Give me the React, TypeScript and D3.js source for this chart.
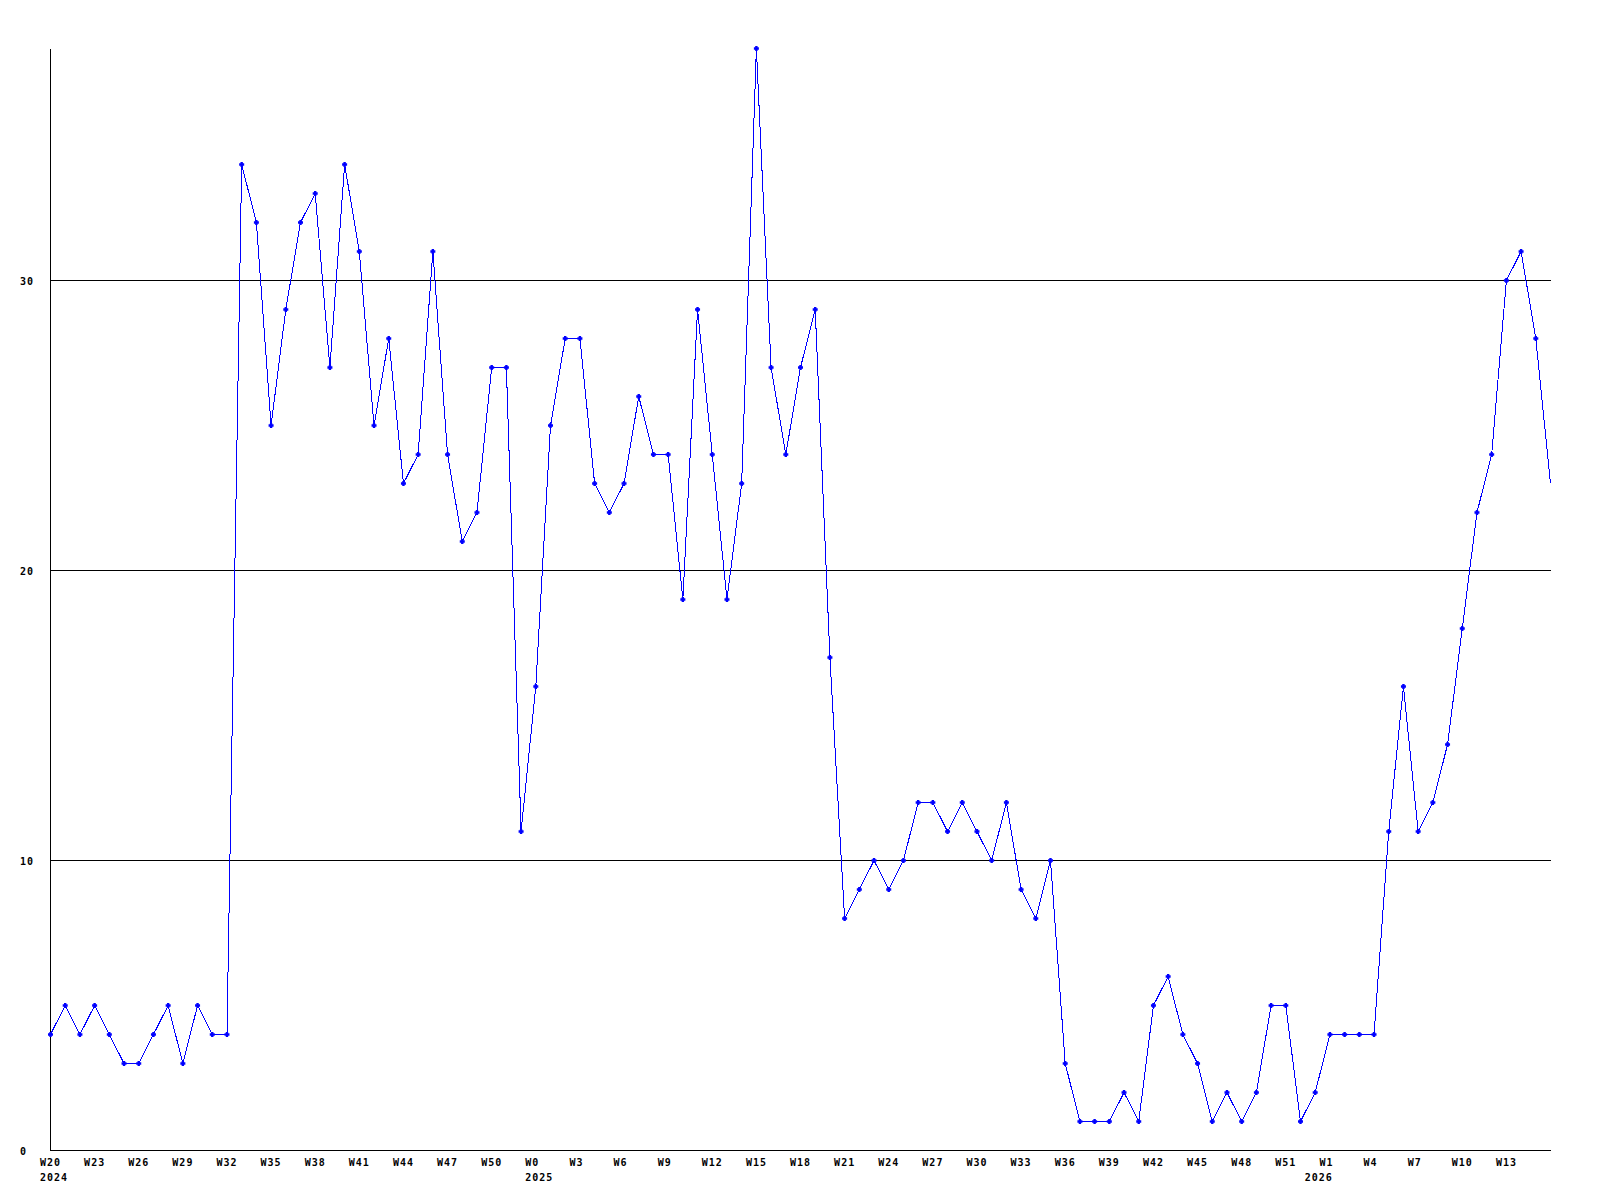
import React, { useEffect, useRef } from "react";
import * as d3 from "d3";

// Week number of each weekly point (Sunday-based week numbers, %U)
const weeks: number[] = [
  20, 21, 22, 23, 24, 25, 26, 27, 28, 29, 30, 31, 32, 33, 34, 35, 36, 37, 38, 39, 40, 41, 42, 43, 44, 45, 46, 47, 48, 49, 50, 51, 52,
  0, 1, 2, 3, 4, 5, 6, 7, 8, 9, 10, 11, 12, 13, 14, 15, 16, 17, 18, 19, 20, 21, 22, 23, 24, 25, 26, 27, 28, 29, 30, 31, 32, 33, 34, 35, 36, 37, 38, 39, 40, 41, 42, 43, 44, 45, 46, 47, 48, 49, 50, 51, 52,
  0, 1, 2, 3, 4, 5, 6, 7, 8, 9, 10, 11, 12, 13, 14, 15, 16,
];

// Year label for each run of weeks
const years: string[] = ["2024", "2025", "2026"];

// Weekly values
const values: number[] = [
  4, 5, 4, 5, 4, 3, 3, 4, 5, 3, 5, 4, 4,
  34, 32, 25, 29, 32, 33, 27, 34, 31, 25, 28, 23, 24, 31, 24, 21, 22, 27, 27,
  11, 16, 25, 28, 28, 23, 22, 23, 26, 24, 24, 19, 29, 24, 19, 23, 38, 27, 24, 27, 29,
  17, 8, 9, 10, 9, 10, 12, 12, 11, 12, 11, 10, 12, 9, 8, 10,
  3, 1, 1, 1, 2, 1, 5, 6, 4, 3, 1, 2, 1, 2, 5, 5, 1, 2,
  4, 4, 4, 4, 11, 16, 11, 12, 14, 18, 22, 24, 30, 31, 28, 23,
];

const yTicks: number[] = [0, 10, 20, 30];
const yMax = 38;
const weekLabelStep = 3;
const lastWeekLabelIndex = 99;

const FONT = "'DejaVu Sans Mono', 'Liberation Mono', monospace";

export default function App() {
  const ref = useRef<SVGSVGElement | null>(null);

  useEffect(() => {
    const svg = d3.select(ref.current);
    svg.selectAll("*").remove();

    const x = d3.scaleLinear().domain([0, values.length - 1]).range([50.5, 1550.5]);
    const y = d3.scaleLinear().domain([0, yMax]).range([1150.5, 48.5]);

    const g = svg.append("g");

    // gridlines
    g.selectAll("line.grid")
      .data(yTicks.filter((t) => t > 0))
      .enter()
      .append("line")
      .attr("x1", x(0))
      .attr("x2", x(values.length - 1))
      .attr("y1", (d) => y(d))
      .attr("y2", (d) => y(d))
      .attr("stroke", "#000")
      .attr("stroke-width", 1)
      .attr("shape-rendering", "crispEdges");

    // axes
    g.append("line")
      .attr("x1", x(0)).attr("x2", x(0))
      .attr("y1", y(yMax)).attr("y2", y(0))
      .attr("stroke", "#000").attr("stroke-width", 1)
      .attr("shape-rendering", "crispEdges");
    g.append("line")
      .attr("x1", x(0)).attr("x2", x(values.length - 1))
      .attr("y1", y(0)).attr("y2", y(0))
      .attr("stroke", "#000").attr("stroke-width", 1)
      .attr("shape-rendering", "crispEdges");

    // y tick labels
    g.selectAll("text.ytick")
      .data(yTicks)
      .enter()
      .append("text")
      .attr("x", 20)
      .attr("y", (d) => y(d) + 4)
      .attr("font-family", FONT)
      .attr("font-weight", "bold")
      .attr("font-size", 10)
      .attr("letter-spacing", 1)
      .attr("fill", "#000")
      .text((d) => String(d));

    // week labels
    const labelIdx = d3.range(0, lastWeekLabelIndex + 1, weekLabelStep);
    g.selectAll("text.week")
      .data(labelIdx)
      .enter()
      .append("text")
      .attr("x", (i) => x(i) - 10.5)
      .attr("y", 1166)
      .attr("font-family", FONT)
      .attr("font-weight", "bold")
      .attr("font-size", 10)
      .attr("letter-spacing", 1)
      .attr("fill", "#000")
      .text((i) => "W" + weeks[i]);

    // year labels at first point and at each week wrap
    const yearIdx: number[] = [];
    weeks.forEach((w, i) => {
      if (i === 0 || w < weeks[i - 1]) yearIdx.push(i);
    });
    g.selectAll("text.year")
      .data(yearIdx)
      .enter()
      .append("text")
      .attr("x", (i) => x(i) - 10.5)
      .attr("y", 1181)
      .attr("font-family", FONT)
      .attr("font-weight", "bold")
      .attr("font-size", 10)
      .attr("letter-spacing", 1)
      .attr("fill", "#000")
      .text((_, k) => years[k]);

    // line
    const line = d3
      .line<number>()
      .x((_, i) => x(i))
      .y((d) => y(d));
    g.append("path")
      .datum(values)
      .attr("d", line)
      .attr("fill", "none")
      .attr("stroke", "#0000ff")
      .attr("stroke-width", 1)
      .attr("shape-rendering", "crispEdges");

    // markers (small plus shapes), not on the final clipped point
    const markerPath = (cx: number, cy: number) => {
      const a = 2.5, b = 1.2;
      return `M${cx - a},${cy - b}H${cx - b}V${cy - a}H${cx + b}V${cy - b}H${cx + a}V${cy + b}H${cx + b}V${cy + a}H${cx - b}V${cy + b}H${cx - a}Z`;
    };
    g.selectAll("path.marker")
      .data(values.slice(0, values.length - 1))
      .enter()
      .append("path")
      .attr("d", (d, i) => markerPath(x(i), y(d)))
      .attr("fill", "#0000ff");
  }, []);

  return (
    <svg
      ref={ref}
      width={1600}
      height={1200}
      style={{ position: "absolute", left: 0, top: 0, background: "#fff" }}
    />
  );
}
